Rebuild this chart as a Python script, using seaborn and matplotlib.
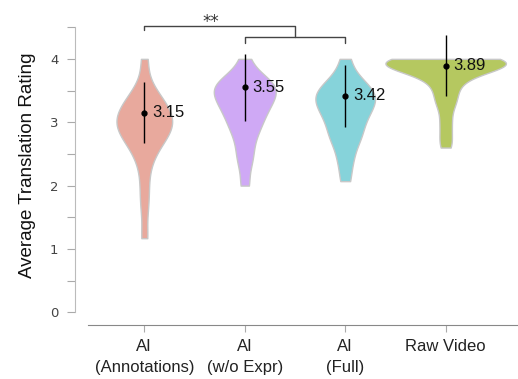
import pandas as pd
import matplotlib
matplotlib.use("Agg")
import matplotlib.pyplot as plt
import seaborn as sns

# condition labels and colours
conditions = ["AI\n(Annotations)", "AI\n(w/o Expr)", "AI\n(Full)", "Raw Video"]
colors = ["#E8A99D", "#CFA9F5", "#86D3DA", "#B5C860"]

# per-participant average ratings
annotations = [1.17, 1.67, 2.0, 2.33, 2.5, 2.67, 2.67, 2.83, 2.83, 2.83, 3.0,
               3.0, 3.0, 3.0, 3.17, 3.17, 3.17, 3.33, 3.33, 3.42, 3.58, 4.0]
wo_expr = [2.0, 2.33, 2.5, 2.67, 2.83, 2.92, 3.0, 3.08, 3.17, 3.25, 3.25,
           3.33, 3.42, 3.42, 3.5, 3.5, 3.58, 3.58, 3.67, 3.67, 3.75, 4.0]
full = [2.07, 2.33, 2.5, 2.67, 2.75, 2.83, 2.92, 3.0, 3.08, 3.17, 3.17, 3.25,
        3.33, 3.33, 3.42, 3.42, 3.5, 3.5, 3.58, 3.67, 3.75, 4.0]
raw_video = [2.6, 2.75, 2.92, 3.08, 3.25, 3.33, 3.42, 3.5, 3.58, 3.67, 3.67,
             3.75, 3.83, 3.83, 3.83, 3.83, 3.83, 3.83, 3.92, 3.92, 3.92,
             3.92, 3.92, 4.0, 4.0, 4.0, 4.0, 4.0, 4.0, 4.0, 4.0, 4.0, 4.0]

# reported means and standard deviations
means = [3.15, 3.55, 3.42, 3.89]
sds = [0.48, 0.53, 0.49, 0.48]

rows = []
for cond, vals in zip(conditions, [annotations, wo_expr, full, raw_video]):
    rows += [(cond, v) for v in vals]
df = pd.DataFrame(rows, columns=["condition", "rating"])

sns.set_style("white")
plt.rcParams["font.family"] = ["Liberation Sans", "DejaVu Sans"]

fig = plt.figure(figsize=(5.18, 3.79), dpi=100)
ax = fig.add_axes([75 / 518, 54 / 379, 443 / 518, 320 / 379])

sns.violinplot(data=df, x="condition", y="rating", hue="condition",
               palette=colors, order=conditions, hue_order=conditions,
               cut=0, inner=None, density_norm="area", common_norm=True,
               width=1.2, bw_adjust=0.65, linewidth=1, linecolor="#C8C8C8",
               saturation=1, legend=False, ax=ax)

xs = list(range(len(conditions)))
ax.errorbar(xs, means, yerr=sds, fmt="o", color="black", ms=3.5,
            elinewidth=1, capsize=0, zorder=5)
for x, m in zip(xs, means):
    ax.text(x + 0.08, m, f"{m:.2f}", fontsize=12, va="center", ha="left",
            color="#111111", zorder=6)

# significance bracket: Annotations vs (w/o Expr, Full)
ax.plot([0, 0, 1.5, 1.5], [4.46, 4.52, 4.52, 4.35], color="#444444", lw=1)
ax.plot([1, 1, 2, 2], [4.25, 4.35, 4.35, 4.25], color="#444444", lw=1)
ax.text(0.66, 4.58, "**", ha="center", va="center", fontsize=12,
        color="#333333", family="DejaVu Sans")

ax.set_xlim(-0.69, 3.72)
ax.set_ylim(-0.2, 4.85)
ax.set_yticks([0, 1, 2, 3, 4])
ax.set_yticks([0.5, 1.5, 2.5, 3.5, 4.5], minor=True)
ax.tick_params(axis="y", which="both", left=True, length=6, width=0.8,
               color="#AAAAAA", labelsize=9.5, labelcolor="#444444", pad=6)
ax.tick_params(axis="x", bottom=True, length=5, width=0.8, color="#AAAAAA",
               labelsize=12, labelcolor="#222222", pad=5)
for lab in ax.get_yticklabels():
    lab.set_family("DejaVu Sans")
for lab in ax.get_xticklabels():
    lab.set_linespacing(1.55)

for s in ["top", "right"]:
    ax.spines[s].set_visible(False)
ax.spines["left"].set_bounds(0, 4.5)
ax.spines["left"].set_color("#BBBBBB")
ax.spines["bottom"].set_bounds(-0.56, 3.72)
ax.spines["bottom"].set_color("#888888")

ax.set_xlabel("")
ax.set_ylabel("Average Translation Rating", fontsize=13.5, color="#111111",
              labelpad=10)

fig.savefig("out.png", dpi=100)
